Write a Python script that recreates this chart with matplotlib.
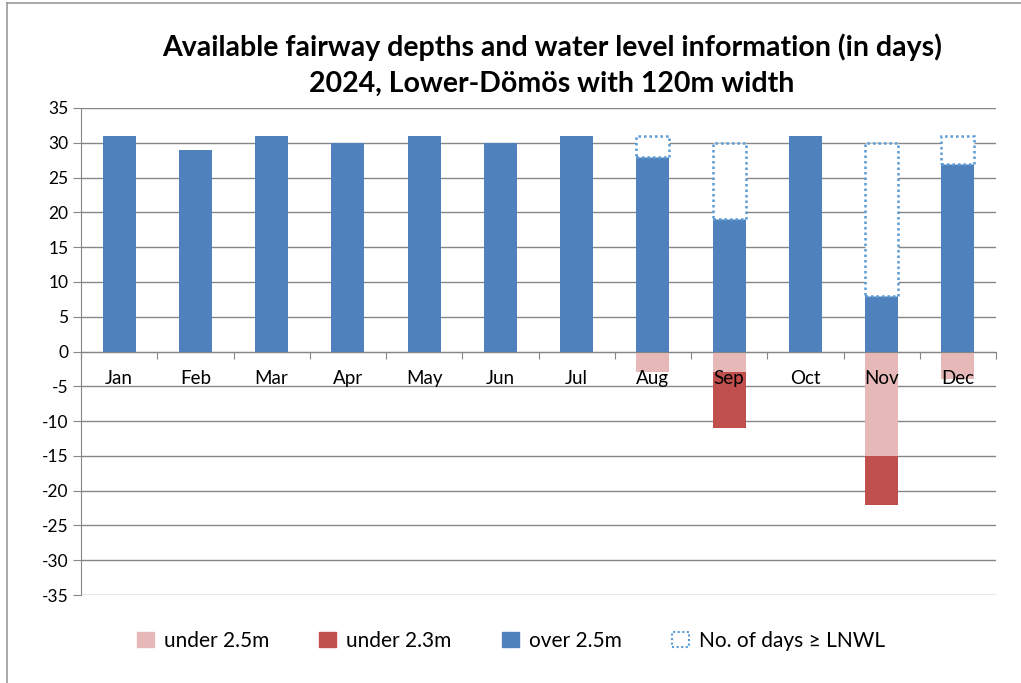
import matplotlib
matplotlib.use("Agg")
import matplotlib.pyplot as plt
from matplotlib.patches import Patch
from matplotlib.lines import Line2D
import numpy as np

months = ["Jan", "Feb", "Mar", "Apr", "May", "Jun", "Jul", "Aug", "Sep", "Oct", "Nov", "Dec"]
over_25 = [31, 29, 31, 30, 31, 30, 31, 28, 19, 31, 8, 27]
lnwl_days = [31, 29, 31, 30, 31, 30, 31, 31, 30, 31, 30, 31]
under_25 = [0, 0, 0, 0, 0, 0, 0, -3, -3, 0, -15, -4]
under_23 = [0, 0, 0, 0, 0, 0, 0, 0, -8, 0, -7, 0]
yticks = list(range(-35, 40, 5))

title_lines = ["Available fairway depths and water level information (in days)",
               "2024, Lower-Dömös with 120m width"]
legend_labels = ["under 2.5m", "under 2.3m", "over 2.5m", "No. of days \u2265 LNWL"]

FONT = ["Lato", "DejaVu Sans"]
plt.rcParams["font.family"] = FONT

C_BLUE = "#4F81BD"
C_PINK = "#E6B9B8"
C_RED = "#C0504D"
C_DOT = "#5B9BD5"
C_GRID = "#868686"

W, H = 1021, 683
fig = plt.figure(figsize=(W / 100, H / 100), dpi=100)
ax = fig.add_axes([81 / W, 1 - 595 / H, (996 - 81) / W, (595 - 108) / H])

x = np.arange(len(months))
w = 0.43
over = np.array(over_25)
lnwl = np.array(lnwl_days)
u25 = np.array(under_25)
u23 = np.array(under_23)

ax.bar(x, over, width=w, color=C_BLUE, zorder=2)
diff = lnwl - over
mask = diff > 0
ax.bar(x[mask], diff[mask], bottom=over[mask], width=w, facecolor="white",
       edgecolor=C_DOT, linestyle=(0, (1, 1.2)), linewidth=1.8, zorder=2)
ax.bar(x, u25, width=w, color=C_PINK, zorder=2)
ax.bar(x, u23, bottom=u25, width=w, color=C_RED, zorder=2)

ax.set_xlim(-0.5, len(months) - 0.5)
ax.set_ylim(-35, 35)
ax.set_yticks(yticks)
ax.set_yticklabels([str(v) for v in yticks], fontsize=12.5)
ax.yaxis.grid(True, color=C_GRID, linewidth=1.0)
ax.set_axisbelow(True)

ax.set_xticks(np.arange(-0.5, len(months), 1.0))
ax.set_xticklabels([])
ax.tick_params(axis="x", length=5, color=C_GRID, direction="out")
ax.tick_params(axis="y", length=6, color=C_GRID, direction="out", pad=3)

for s in ["top", "right"]:
    ax.spines[s].set_visible(False)
ax.spines["left"].set_color(C_GRID)
ax.spines["bottom"].set_color(C_GRID)
ax.spines["bottom"].set_position(("data", 0))
ax.spines["bottom"].set_zorder(3)

for i, m in enumerate(months):
    ax.annotate(m, xy=(i, 0), xytext=(0, -13), textcoords="offset points",
                ha="center", va="top", fontsize=13.5, zorder=5)

fig.text(552 / W, 1 - 47 / H, title_lines[0], ha="center", va="center",
         fontsize=20.5, fontweight="bold")
fig.text(552 / W, 1 - 84 / H, title_lines[1], ha="center", va="center",
         fontsize=20.5, fontweight="bold")

handles = [
    Patch(facecolor=C_PINK, edgecolor=C_PINK),
    Patch(facecolor=C_RED, edgecolor=C_RED),
    Patch(facecolor=C_BLUE, edgecolor=C_BLUE),
    Patch(facecolor="white", edgecolor=C_DOT, linestyle=(0, (1, 1.2)), linewidth=1.5),
]
fig.legend(handles, legend_labels, loc="center", bbox_to_anchor=(511 / W, 1 - 641 / H),
           ncol=4, frameon=False, fontsize=15, handlelength=0.8, handleheight=0.72,
           handletextpad=0.5, columnspacing=2.4)

fig.add_artist(Line2D([7 / W, 1], [1 - 3 / H, 1 - 3 / H], color="#999999", linewidth=1.2))
fig.add_artist(Line2D([7 / W, 7 / W], [0, 1 - 3 / H], color="#999999", linewidth=1.2))

fig.savefig("out.png", dpi=100)
